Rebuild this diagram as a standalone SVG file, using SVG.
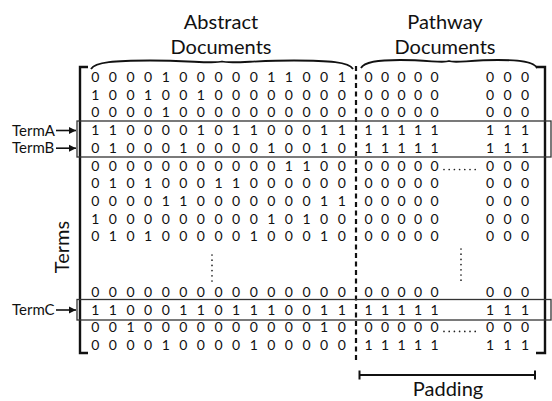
<svg xmlns="http://www.w3.org/2000/svg" width="552" height="401" viewBox="0 0 552 401">
<style>
text{font-family:Lato,"Open Sans","Liberation Sans",sans-serif;fill:#111}
.h{font-size:20px;text-anchor:middle}
.m{font-size:14px;text-anchor:middle}
.t{font-size:15px}
.br{fill:none;stroke:#111;stroke-width:2.4}
.brace{fill:none;stroke:#111;stroke-width:1.8}
.box{fill:none;stroke:#333;stroke-width:1.3}
.dots{fill:none;stroke:#222;stroke-width:1.7;stroke-linecap:round;stroke-dasharray:0 5.2}
.sep{stroke:#111;stroke-width:2.2;stroke-dasharray:5 3.5}
.arr{stroke:#111;stroke-width:1.6}
.bar{stroke:#111;stroke-width:2}
</style>
<defs>
<marker id="ah" markerWidth="8" markerHeight="8" refX="7" refY="4" orient="auto" markerUnits="userSpaceOnUse">
<path d="M0,0.5 L7,4 L0,7.5 z" fill="#111"/>
</marker>
</defs>

<!-- column headings with braces -->
<g id="abstract-docs">
<text class="h" x="221" y="29">Abstract</text>
<text class="h" x="221" y="54">Documents</text>
<path class="brace" d="M91,69 C95,62 115,60.5 150,60.5 C190,60.5 214,64 222,61.5 C230,64 254,60.5 294,60.5 C329,60.5 349,62 353,69"/>
</g>
<g id="pathway-docs">
<text class="h" x="445" y="29">Pathway</text>
<text class="h" x="445" y="54">Documents</text>
<path class="brace" d="M361,68 C364,61.5 378,60 400,60 C430,60 443,63.5 449,61 C455,63.5 468,60 498,60 C520,60 534,61.5 537,68"/>
</g>

<!-- matrix brackets and abstract/pathway separator -->
<g id="brackets">
<path class="br" d="M88,67 H80 V353 H88"/>
<path class="br" d="M536,67 H545 V353 H536"/>
<line class="sep" x1="356" y1="66" x2="356" y2="363"/>
</g>

<!-- term rows: abstract columns -->
<g id="abstract-cols">
<text class="m" x="95.3 112.9 130.5 148.1 165.7 183.3 200.9 218.5 236.1 253.7 271.3 288.9 306.5 324.1 341.7" y="82">000010000011001</text>
<text class="m" x="95.3 112.9 130.5 148.1 165.7 183.3 200.9 218.5 236.1 253.7 271.3 288.9 306.5 324.1 341.7" y="99.7">100100100000000</text>
<text class="m" x="95.3 112.9 130.5 148.1 165.7 183.3 200.9 218.5 236.1 253.7 271.3 288.9 306.5 324.1 341.7" y="117.4">000010000000000</text>
<text class="m" x="95.3 112.9 130.5 148.1 165.7 183.3 200.9 218.5 236.1 253.7 271.3 288.9 306.5 324.1 341.7" y="135.1">110000101100011</text>
<text class="m" x="95.3 112.9 130.5 148.1 165.7 183.3 200.9 218.5 236.1 253.7 271.3 288.9 306.5 324.1 341.7" y="152.8">010001000010010</text>
<text class="m" x="95.3 112.9 130.5 148.1 165.7 183.3 200.9 218.5 236.1 253.7 271.3 288.9 306.5 324.1 341.7" y="170.5">000000000001100</text>
<text class="m" x="95.3 112.9 130.5 148.1 165.7 183.3 200.9 218.5 236.1 253.7 271.3 288.9 306.5 324.1 341.7" y="188.2">010100011000000</text>
<text class="m" x="95.3 112.9 130.5 148.1 165.7 183.3 200.9 218.5 236.1 253.7 271.3 288.9 306.5 324.1 341.7" y="205.9">000011000000011</text>
<text class="m" x="95.3 112.9 130.5 148.1 165.7 183.3 200.9 218.5 236.1 253.7 271.3 288.9 306.5 324.1 341.7" y="223.6">100000000010100</text>
<text class="m" x="95.3 112.9 130.5 148.1 165.7 183.3 200.9 218.5 236.1 253.7 271.3 288.9 306.5 324.1 341.7" y="241.3">010100000100010</text>
<text class="m" x="95.3 112.9 130.5 148.1 165.7 183.3 200.9 218.5 236.1 253.7 271.3 288.9 306.5 324.1 341.7" y="297">000000000000000</text>
<text class="m" x="95.3 112.9 130.5 148.1 165.7 183.3 200.9 218.5 236.1 253.7 271.3 288.9 306.5 324.1 341.7" y="314.7">110001101110011</text>
<text class="m" x="95.3 112.9 130.5 148.1 165.7 183.3 200.9 218.5 236.1 253.7 271.3 288.9 306.5 324.1 341.7" y="332.4">001000000000010</text>
<text class="m" x="95.3 112.9 130.5 148.1 165.7 183.3 200.9 218.5 236.1 253.7 271.3 288.9 306.5 324.1 341.7" y="350">000010000100000</text>
<path class="dots" d="M212,255 V284"/>
</g>

<!-- term rows: pathway columns and padding -->
<g id="pathway-cols">
<text class="m" x="368.5 385 401.5 418 434.5 490 507.5 525" y="82">00000000</text>
<text class="m" x="368.5 385 401.5 418 434.5 490 507.5 525" y="99.7">00000000</text>
<text class="m" x="368.5 385 401.5 418 434.5 490 507.5 525" y="117.4">00000000</text>
<text class="m" x="368.5 385 401.5 418 434.5 490 507.5 525" y="135.1">11111111</text>
<text class="m" x="368.5 385 401.5 418 434.5 490 507.5 525" y="152.8">11111111</text>
<text class="m" x="368.5 385 401.5 418 434.5 490 507.5 525" y="170.5">00000000</text>
<text class="m" x="368.5 385 401.5 418 434.5 490 507.5 525" y="188.2">00000000</text>
<text class="m" x="368.5 385 401.5 418 434.5 490 507.5 525" y="205.9">00000000</text>
<text class="m" x="368.5 385 401.5 418 434.5 490 507.5 525" y="223.6">00000000</text>
<text class="m" x="368.5 385 401.5 418 434.5 490 507.5 525" y="241.3">00000000</text>
<text class="m" x="368.5 385 401.5 418 434.5 490 507.5 525" y="297">00000000</text>
<text class="m" x="368.5 385 401.5 418 434.5 490 507.5 525" y="314.7">11111111</text>
<text class="m" x="368.5 385 401.5 418 434.5 490 507.5 525" y="332.4">00000000</text>
<text class="m" x="368.5 385 401.5 418 434.5 490 507.5 525" y="350">11111111</text>
<path class="dots" d="M444,169.5 H479"/>
<path class="dots" d="M444,331.4 H479"/>
<path class="dots" d="M461,249 V284"/>
</g>

<!-- highlighted term rows -->
<g id="term-a-b">
<rect class="box" x="77" y="121" width="474" height="36"/>
<text class="t" x="12" y="135.5">TermA</text>
<text class="t" x="12" y="153.2">TermB</text>
</g>
<g id="term-c">
<rect class="box" x="77" y="299.5" width="474" height="20.5"/>
<text class="t" x="12" y="315.1">TermC</text>
</g>

<g id="terms-axis">
<text class="h" transform="translate(69,247) rotate(-90)">Terms</text>
</g>

<g id="padding">
<line class="bar" x1="359.5" y1="375" x2="535" y2="375"/>
<line class="bar" x1="359.5" y1="370.5" x2="359.5" y2="379.5"/>
<line class="bar" x1="535" y1="370.5" x2="535" y2="379.5"/>
<text class="h" x="448" y="396">Padding</text>
</g>

<!-- label arrows -->
<g id="connectors">
<line class="arr" x1="56" y1="130.5" x2="76" y2="130.5" marker-end="url(#ah)"/>
<line class="arr" x1="56" y1="148.2" x2="76" y2="148.2" marker-end="url(#ah)"/>
<line class="arr" x1="56" y1="310" x2="76" y2="310" marker-end="url(#ah)"/>
</g>
</svg>
